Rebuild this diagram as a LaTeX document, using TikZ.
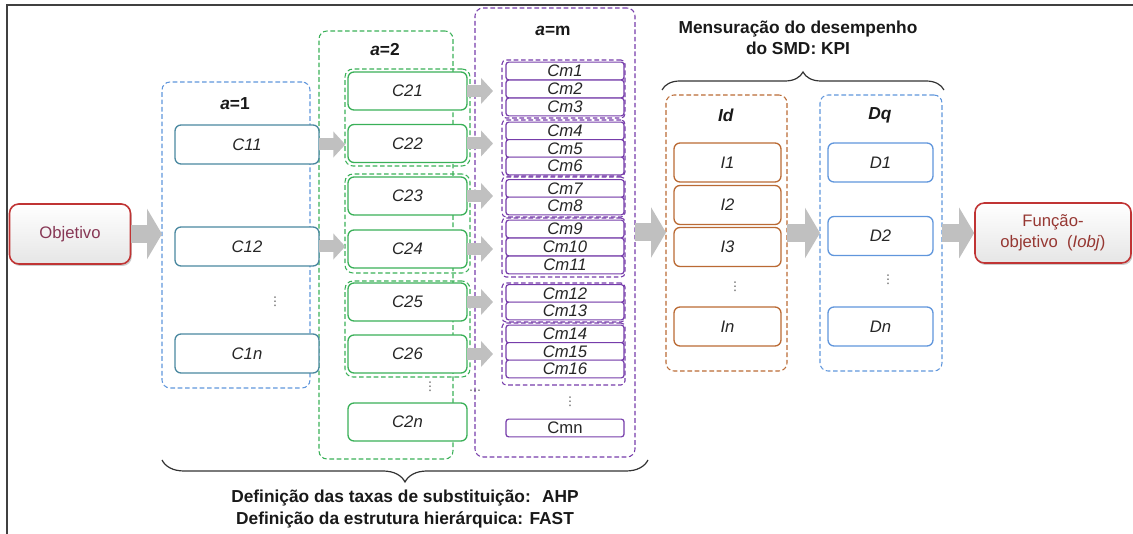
\documentclass[tikz,border=0pt]{standalone}
\usepackage{fontspec}
\setmainfont{Liberation Sans}
\newfontfamily\symfont{DejaVu Sans}
\usetikzlibrary{positioning,arrows.meta,decorations.pathreplacing,shadows}
\definecolor{cteal}{RGB}{74,136,160}
\definecolor{cgreen}{RGB}{58,176,88}
\definecolor{cpurple}{RGB}{118,60,170}
\definecolor{cbrown}{RGB}{186,106,52}
\definecolor{cblue}{RGB}{96,150,220}
\definecolor{cred}{RGB}{192,52,52}
\definecolor{cobj}{RGB}{135,55,85}
\definecolor{cfun}{RGB}{150,55,50}
\definecolor{cgray}{RGB}{192,192,192}

\begin{document}
\begin{tikzpicture}[x=0.75pt,y=-0.75pt,font=\fontsize{12.5}{14}\selectfont\itshape,
   grp/.style={draw,dash pattern=on 3.5pt off 2pt,line width=0.8pt,rounded corners=6pt,inner sep=0pt,outer sep=0pt},
   box/.style={draw,line width=1pt,rounded corners=4.5pt,fill=white,inner sep=0pt,outer sep=0pt,text=black!85},
   cbox/.style={box,line width=0.9pt,draw=cpurple,rounded corners=2pt,minimum width=88.5pt,minimum height=13.3pt},
   head/.style={font=\fontsize{13}{16}\selectfont\bfseries,align=center,inner sep=0pt,text=black!90},
   ends/.style={draw=cred,line width=1.2pt,rounded corners=7pt,top color=white,bottom color=black!10,align=center,
      font=\fontsize{12.5}{16}\selectfont,minimum height=45pt,inner sep=0pt,
      drop shadow={shadow xshift=1pt,shadow yshift=-1.5pt,fill=black!40}},
   fatarrow/.style={draw=cgray,line width=13.5pt,-{Triangle[width=37.5pt,length=11.25pt]}},
   slimarrow/.style={draw=cgray,line width=9pt,-{Triangle[width=19pt,length=9pt]}},
   vdot/.style={font=\symfont\fontsize{9}{10}\selectfont,text=black!65,inner sep=0pt}]
  \useasboundingbox (0,0) rectangle (1133,534);
  \draw[line width=1.5pt,black!75] (7,534) -- (7,5) -- (1133,5);

  \node[ends,text=cobj,minimum width=90.75pt] (obj) at (70,234) {Objetivo};
  \node[ends,text=cfun,minimum width=117pt] (fun) at (1053,233) {Função-\\objetivo \ (\textit{Iobj})};

  \node[grp,draw=cblue,minimum width=111pt,minimum height=229.5pt] (g1) at (236,235) {};
  \node[grp,draw=cgreen,minimum width=100.5pt,minimum height=321pt] (g2) at (386,245) {};
  \node[grp,draw=cpurple,minimum width=120pt,minimum height=336.75pt] (gm) at (555,232.5) {};
  \node[grp,draw=cbrown,minimum width=90.75pt,minimum height=207pt] (gI) at (726.5,233) {};
  \node[grp,draw=cblue,minimum width=91.5pt,minimum height=207pt] (gD) at (881,233) {};

  \node[head] (la1) at (235,104) {\textit{a}=1};
  \node[head] (la2) at (385,50) {\textit{a}=2};
  \node[head] (lam) at (553,31) {\textit{a}=m};
  \node[head] (lid) at (726,115) {\textit{Id}};
  \node[head] (ldq) at (880,115) {\textit{Dq}};

  \foreach \n/\y/\h in {a/117.5/72.75,b/223.5/74.25,c/329/72}
    \node[grp,draw=cgreen,minimum width=93.75pt,minimum height=\h pt] (g2\n) at (407.5,\y) {};
  \foreach \n/\y/\h in {a/89/43.5,b/148/42,c/197/30,d/247.5/44.25,e/302.5/29.25,f/354/46.5}
    \node[grp,draw=cpurple,minimum width=92.25pt,minimum height=\h pt,rounded corners=3pt] (gm\n) at (563.5,\y) {};

  \foreach \i/\y in {11/144.5,12/246.5,1n/353.5}
    \node[box,draw=cteal,minimum width=108pt,minimum height=29.25pt] (c\i) at (247,\y) {C\i};
  \node[vdot] (d1) at (275,302) {⋮};

  \foreach \i/\y in {21/91,22/143.5,23/196,24/249,25/302,26/354,2n/422}
    \node[box,draw=cgreen,minimum width=89.25pt,minimum height=28.5pt] (c\i) at (407.5,\y) {C\i};
  \node[vdot] (d2) at (430,387) {⋮};
  \node[vdot] (d3) at (475,392) {⋯};

  \foreach \i/\y in {1/71,2/89,3/107,4/131,5/148.5,6/166,7/188.5,8/206,9/229,10/247,11/265,12/293.5,13/311,14/334,15/351.5,16/369}
    \node[cbox] (cm\i) at (565,\y) {Cm\i};
  \node[vdot] (dm) at (570,402) {⋮};
  \node[cbox,font=\fontsize{12.5}{14}\selectfont] (cmn) at (565,428) {Cmn};

  \foreach \i/\y in {1/162.5,2/205,3/247,n/326.5}
    \node[box,draw=cbrown,minimum width=80.25pt,minimum height=29.25pt] (i\i) at (727.5,\y) {I\i};
  \node[vdot] (di) at (735,287) {⋮};
  \foreach \i/\y in {1/162.5,2/236,n/326.5}
    \node[box,draw=cblue,minimum width=78.75pt,minimum height=29.25pt] (q\i) at (880.5,\y) {D\i};
  \node[vdot] (dq) at (888,280) {⋮};

  \draw[fatarrow] (obj.east) -- (obj.east -| g1.west);
  \draw[fatarrow] (gm.east) -- (gm.east -| gI.west);
  \draw[fatarrow] (gI.east) -- (gI.east -| gD.west);
  \draw[fatarrow] (gD.east) -- (gD.east -| fun.west);
  \draw[slimarrow,shorten >=2pt] (c11.east) -- (c11.east -| c22.west);
  \draw[slimarrow,shorten >=2pt] (c12.east) -- (c12.east -| c24.west);
  \foreach \a/\b in {21/a,22/b,23/c,24/d,25/e,26/f}
    \draw[slimarrow,shorten >=6.75pt] (c\a.east) -- (c\a.east -| gm\b.west);

  \node[head,font=\fontsize{13}{15.75}\selectfont\bfseries] (kpi) at (798,37.5) {Mensuração do desempenho\\do SMD: KPI};
  \draw[decorate,decoration={brace,amplitude=13.5pt},line width=0.9pt,black!80] (662,90) -- (944,90);
  \draw[decorate,decoration={brace,amplitude=16.5pt},line width=0.9pt,black!80] (648,460) -- (162,460);
  \node[head,font=\fontsize{13}{16.5}\selectfont\bfseries] (ahp) at (405,509) {Definição das taxas de substituição: \ AHP\\Definição da estrutura hierárquica: FAST};
\end{tikzpicture}
\end{document}
